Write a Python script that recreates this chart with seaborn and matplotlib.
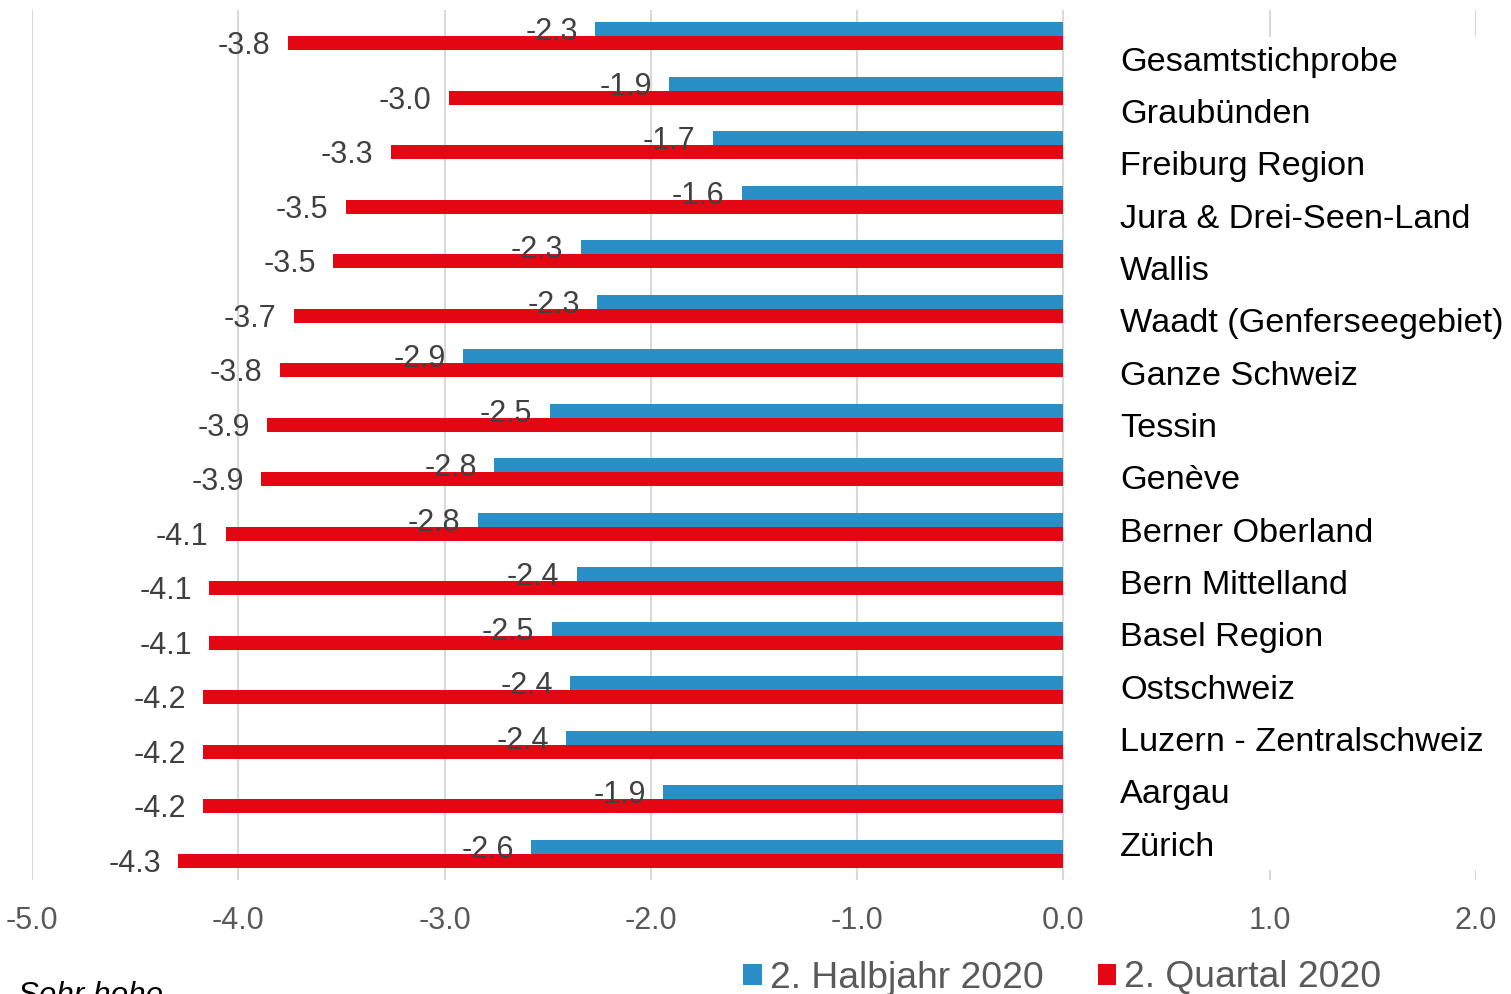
import pandas as pd
import numpy as np
import matplotlib
matplotlib.use('Agg')
import matplotlib.pyplot as plt
import matplotlib.transforms as mtransforms
from matplotlib.patches import Rectangle
import seaborn as sns

# Daten
regionen = ['Gesamtstichprobe', 'Graubünden', 'Freiburg Region', 'Jura & Drei-Seen-Land',
            'Wallis', 'Waadt (Genferseegebiet)', 'Ganze Schweiz', 'Tessin', 'Genève',
            'Berner Oberland', 'Bern Mittelland', 'Basel Region', 'Ostschweiz',
            'Luzern - Zentralschweiz', 'Aargau', 'Zürich']
halbjahr = [-2.27, -1.91, -1.70, -1.56, -2.34, -2.26, -2.91, -2.49, -2.76, -2.84,
            -2.36, -2.48, -2.39, -2.41, -1.94, -2.58]
quartal = [-3.76, -2.98, -3.26, -3.48, -3.54, -3.73, -3.80, -3.86, -3.89, -4.06,
           -4.14, -4.14, -4.17, -4.17, -4.17, -4.29]
serien = ['2. Halbjahr 2020', '2. Quartal 2020']
farben = ['#2A8FC6', '#E30613']
x_ticks = [-5, -4, -3, -2, -1, 0, 1, 2]

df = pd.DataFrame({
    'region': regionen * 2,
    'wert': halbjahr + quartal,
    'serie': [serien[0]] * len(regionen) + [serien[1]] * len(regionen),
})

sns.set_theme(style='white')
plt.rcParams['font.family'] = ['Liberation Sans', 'DejaVu Sans']

fig = plt.figure(figsize=(15.11, 9.94), dpi=100)
ax = fig.add_axes([0.0212, 0.1147, 0.9556, 0.8752])

sns.barplot(data=df, x='wert', y='region', hue='serie', hue_order=serien,
            palette=farben, orient='h', width=0.514, saturation=1,
            linewidth=0, ax=ax, legend=True)

# Werte an den Balken (leicht nach unten versetzt wie im Original)
for cont in ax.containers:
    lbls = ax.bar_label(cont, fmt='%.1f', padding=12.5, fontsize=22, color='#404040')
    for lb in lbls:
        dx, dy = lb.xyann
        lb.xyann = (dx, dy - 2.2)

ax.set_xlim(-5, 2)
ax.set_ylim(15.48, -0.48)
ax.set_xticks(x_ticks)
ax.set_xticklabels([f'{t:.1f}' for t in x_ticks], fontsize=22, color='#595959')
ax.tick_params(axis='x', length=0, pad=19)
ax.set_yticks([])
ax.set_xlabel('')
ax.set_ylabel('')
for s in ax.spines.values():
    s.set_visible(False)
ax.grid(axis='x', color='#D9D9D9', linewidth=1.5)
ax.set_axisbelow(True)

# weisses Textfeld rechts (verdeckt Gitterlinien)
trans = mtransforms.blended_transform_factory(ax.transData, ax.transAxes)
ax.add_patch(Rectangle((0.12, 0.0115), 2.0, 0.9575, transform=trans,
                       facecolor='white', edgecolor='none', zorder=1, clip_on=False))

# Regionsnamen
for i, name in enumerate(regionen):
    ypix = 70.7 + 52.33 * i
    fig.text(1120 / 1511, 1 - ypix / 994, name, fontsize=24.7, color='black',
             ha='left', va='baseline', zorder=5)

# Legende
handles, labels = ax.get_legend_handles_labels()
ax.get_legend().remove()
fig.legend(handles, labels, loc='center left', bbox_to_anchor=(743 / 1511, 1 - 978 / 994),
           ncol=2, frameon=False, fontsize=26.8, labelcolor='#595959',
           handlelength=0.5, handleheight=0.5, handletextpad=0.22,
           columnspacing=1.45, borderaxespad=0, borderpad=0)

fig.text(18 / 1511, 1 - 1003.5 / 994, 'Sehr hohe', fontsize=22.6, style='italic',
         color='black', ha='left', va='baseline')

fig.savefig('out.png', dpi=100)
